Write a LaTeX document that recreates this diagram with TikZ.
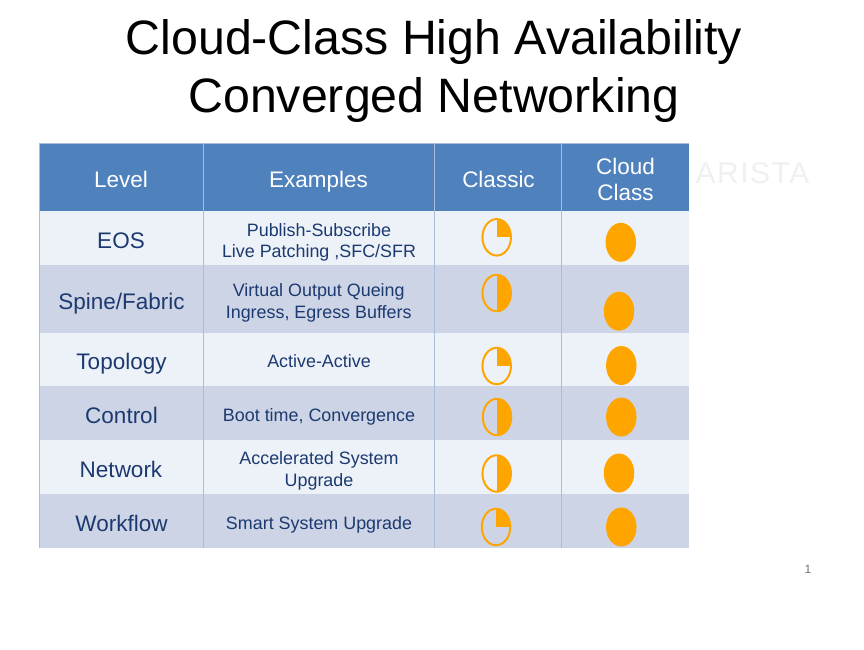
\documentclass[tikz,border=0pt]{standalone}
\usepackage{fontspec}
\setmainfont{Liberation Sans}
\usetikzlibrary{shapes.geometric}
\definecolor{headblue}{HTML}{4F81BD}
\definecolor{rowlight}{HTML}{EDF1F8}
\definecolor{rowdark}{HTML}{CDD4E5}
\definecolor{gridblue}{HTML}{AABCDC}
\definecolor{textnavy}{HTML}{1C3A70}
\definecolor{pieorange}{HTML}{FFA500}
\tikzset{
  band/.style={inner sep=0pt,outer sep=0pt,minimum width=650pt},
  headtext/.style={text=white,inner sep=0pt,align=center,font=\fontsize{22.5}{26}\selectfont},
  leveltext/.style={text=textnavy,inner sep=0pt,font=\fontsize{22.5}{26}\selectfont},
  exampletext/.style={text=textnavy,inner sep=0pt,align=center,font=\fontsize{17.9}{21.3}\selectfont},
  pie/.style={ellipse,draw=pieorange,line width=2pt,inner sep=0pt,outer sep=0pt,minimum width=28.5pt,minimum height=36.5pt},
  quarter/.style={pie,path picture={\fill[pieorange] (path picture bounding box.center) rectangle (path picture bounding box.north east);}},
  half/.style={pie,path picture={\fill[pieorange] (path picture bounding box.north) rectangle (path picture bounding box.south east);}},
  full/.style={ellipse,fill=pieorange,inner sep=0pt,outer sep=0pt,minimum width=30.5pt,minimum height=39pt},
  gridline/.style={gridblue,line width=1pt},
}
\begin{document}
\begin{tikzpicture}[x=1pt,y=-1pt]
\useasboundingbox[fill=white] (0,0) rectangle (864,649);
% title
\node[align=center,font=\fontsize{48.3}{58}\selectfont] at (434,71) (title) {Cloud-Class High Availability\\Converged Networking};
\node[text=black!6,inner sep=0pt,font=\fontsize{30}{30}\selectfont\addfontfeatures{LetterSpace=5}] at (752.5,173) (logo) {ARISTA};
\node[text=black!55,font=\fontsize{12}{14}\selectfont] at (808,569) (page) {1};
% row bands
\node[band,fill=headblue,minimum height=68pt] at (364,177) (rhead) {};
\node[band,fill=rowlight,minimum height=54pt] at (364,238) (reos) {};
\node[band,fill=rowdark,minimum height=68pt] at (364,299) (rspine) {};
\node[band,fill=rowlight,minimum height=53pt] at (364,359.5) (rtopo) {};
\node[band,fill=rowdark,minimum height=54pt] at (364,413) (rcontrol) {};
\node[band,fill=rowlight,minimum height=54pt] at (364,467) (rnet) {};
\node[band,fill=rowdark,minimum height=54pt] at (364,521) (rflow) {};
% column rules
\coordinate (t1) at (203,143);
\coordinate (b1) at (203,548);
\coordinate (t2) at (434,143);
\coordinate (b2) at (434,548);
\coordinate (t3) at (561,143);
\coordinate (b3) at (561,548);
\draw[gridline] (t1) -- (b1);
\draw[gridline] (t2) -- (b2);
\draw[gridline] (t3) -- (b3);
\draw[gridline] (rflow.south west) -- (rhead.north west) -- (rhead.north east);
% header
\node[headtext,anchor=base] at (121,187) (hlevel) {Level};
\node[headtext,anchor=base] at (318.5,187) (hexamples) {Examples};
\node[headtext,anchor=base] at (498.5,187) (hclassic) {Classic};
\node[headtext] at (625.5,179) (hcloud) {Cloud\\Class};
% first column
\node[leveltext,anchor=base] at (121,248) (leos) {EOS};
\node[leveltext,anchor=base] at (121.5,309) (lspine) {Spine/Fabric};
\node[leveltext,anchor=base] at (121.5,369) (ltopo) {Topology};
\node[leveltext,anchor=base] at (121.5,423) (lcontrol) {Control};
\node[leveltext,anchor=base] at (121,477) (lnet) {Network};
\node[leveltext,anchor=base] at (121.5,531) (lflow) {Workflow};
% second column
\node[exampletext] at (319,242.5) (eeos) {Publish-Subscribe\\Live Patching ,SFC/SFR};
\node[exampletext] at (318.7,303) (espine) {Virtual Output Queing\\Ingress, Egress Buffers};
\node[exampletext,anchor=base] at (319,367) (etopo) {Active-Active};
\node[exampletext,anchor=base] at (319,421) (econtrol) {Boot time, Convergence};
\node[exampletext] at (319,471) (enet) {Accelerated System\\Upgrade};
\node[exampletext,anchor=base] at (319,529) (eflow) {Smart System Upgrade};
% classic marks
\node[quarter] at (496.7,237.3) (peos) {};
\node[half] at (496.7,293) (pspine) {};
\node[quarter] at (496.7,366) (ptopo) {};
\node[half] at (497,417) (pcontrol) {};
\node[half] at (496.7,473.5) (pnet) {};
\node[quarter] at (496,527) (pflow) {};
% cloud class marks
\node[full] at (620.8,242.3) (feos) {};
\node[full] at (619,311.2) (fspine) {};
\node[full] at (621.3,365.5) (ftopo) {};
\node[full] at (621.3,417) (fcontrol) {};
\node[full] at (619,473) (fnet) {};
\node[full] at (621.3,527) (fflow) {};
\end{tikzpicture}
\end{document}
